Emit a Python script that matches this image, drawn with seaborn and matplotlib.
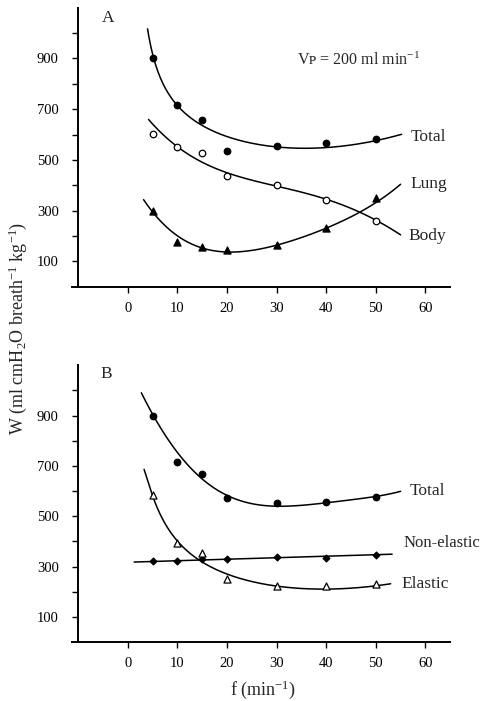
import numpy as np
import pandas as pd
import matplotlib
matplotlib.use("Agg")
import matplotlib.pyplot as plt
import seaborn as sns

# ---- data ----
freq = [5, 10, 15, 20, 30, 40, 50]

# Panel A
a_total = [900, 715, 658, 534, 553, 565, 584]
a_body = [604, 549, 526, 436, 401, 342, 261]
a_lung = [300, 175, 155, 143, 163, 233, 350]

# points
a_total_cx = [4, 5, 7.5, 10.4, 14.5, 20.5, 26.5, 29.5, 35, 40.4, 45, 50.2, 55.2]
a_total_cy = [1025, 900, 795, 717, 639, 580, 557, 548, 547, 554, 566, 580, 593]
a_body_cx = [4.2, 10.3, 15, 20.1, 26.5, 30.4, 40.4, 46.6, 50.1, 55]
a_body_cy = [658, 550, 496, 440, 412, 398, 346, 292, 260, 206]
a_lung_cx = [3.2, 5.1, 10.4, 15.1, 20.1, 26.5, 30.4, 40.4, 46.6, 50.2, 55]
a_lung_cy = [342, 297, 190, 151, 141, 151, 164, 229, 292, 340, 401]

# Panel B
b_total = [900, 716, 669, 572, 551, 556, 577]
b_nonel = [321, 324, 332, 332, 338, 336, 345]
b_elast = [584, 395, 354, 252, 223, 223, 231]

b_total_cx = [2.75, 5, 10.7, 17.4, 26.8, 30.8, 35, 40.5, 45, 50.2, 55]
b_total_cy = [994, 900, 739, 614, 542, 538, 545, 556, 566, 577, 600]
b_nonel_cx = [1.3, 20, 40, 53.3]
b_nonel_cy = [318, 330, 340, 350]
b_elast_cx = [3.3, 5, 10, 14.7, 20, 26.8, 30.8, 35, 39.5, 45, 50, 53]
b_elast_cy = [686, 584, 395, 332, 266, 233, 220, 214, 210, 214, 225, 231]

xticks = [0, 10, 20, 30, 40, 50, 60]
yticks_labeled = [100, 300, 500, 700, 900]

# ---- style ----
sns.set_theme(style="ticks")
plt.rcParams["font.family"] = ["Liberation Serif", "DejaVu Serif"]
plt.rcParams["mathtext.fontset"] = "custom"
plt.rcParams["mathtext.rm"] = "Liberation Serif"
plt.rcParams["mathtext.it"] = "Liberation Serif:italic"
plt.rcParams["mathtext.bf"] = "Liberation Serif:bold"

fig = plt.figure(figsize=(4.82, 7.01), dpi=100)
axA = fig.add_axes([0.162, 0.591, 0.772, 0.398])
axB = fig.add_axes([0.162, 0.084, 0.772, 0.395])

LW = 1.1


def curve(ax, cx, cy, order):
    """Polynomial smoothing of the read curve points (seaborn regplot)."""
    sns.regplot(x=np.array(cx), y=np.array(cy), order=order, ci=None,
                scatter=False, truncate=True, ax=ax,
                line_kws=dict(color="black", lw=LW))


def hyper_curve(ax, cx, cy):
    """Least-squares smoothing of the read curve points for the steep,
    hyperbola-like curves (basis 1, 1/x, 1/x^2, x, x^2)."""
    cx = np.asarray(cx, float)
    cy = np.asarray(cy, float)

    def basis(x):
        return np.column_stack([np.ones_like(x), 1 / x, 1 / x**2, x, x**2])

    coef, *_ = np.linalg.lstsq(basis(cx), cy, rcond=None)
    grid = np.linspace(cx.min(), cx.max(), 200)
    sns.lineplot(x=grid, y=basis(grid) @ coef, ax=ax, color="black",
                 lw=LW, sort=False, estimator=None)


def pts(ax, y, marker, filled, s):
    sns.scatterplot(x=freq, y=y, marker=marker, s=s, ax=ax,
                    color="black" if filled else "white",
                    edgecolor="black", linewidth=0.9, zorder=5)


# Panel A
hyper_curve(axA, a_total_cx, a_total_cy)
curve(axA, a_body_cx, a_body_cy, 4)
curve(axA, a_lung_cx, a_lung_cy, 4)
pts(axA, a_total, "o", True, 22)
pts(axA, a_body, "o", False, 22)
pts(axA, a_lung, "^", True, 26)

# Panel B
curve(axB, b_total_cx, b_total_cy, 5)
curve(axB, b_nonel_cx, b_nonel_cy, 1)
hyper_curve(axB, b_elast_cx, b_elast_cy)
pts(axB, b_total, "o", True, 22)
pts(axB, b_nonel, "D", True, 12)
pts(axB, b_elast, "^", False, 26)

for ax in (axA, axB):
    ax.set_xlim(-10, 65)
    ax.set_ylim(0, 1100)
    ax.set_xticks(xticks)
    ax.set_xticklabels([str(v) for v in xticks])
    ax.set_yticks(list(range(100, 1001, 100)))
    ax.set_yticklabels([str(v) if v in yticks_labeled else "" for v in range(100, 1001, 100)])
    ax.tick_params(direction="out", length=4, width=1.0, labelsize=10.5,
                   colors="black")
    ax.tick_params(axis="y", pad=10)
    ax.tick_params(axis="x", pad=7)
    for side in ("top", "right"):
        ax.spines[side].set_visible(False)
    for side in ("left", "bottom"):
        ax.spines[side].set_linewidth(1.4)
        ax.spines[side].set_color("black")
    ax.spines["bottom"].set_bounds(-11.2, 65)
    ax.set_xlabel("")
    ax.set_ylabel("")
    ax.set_facecolor("white")

FS = 12.5
axA.text(-4.0, 1060, "A", fontsize=FS, ha="center", va="center")
axA.text(57.0, 592, "Total", fontsize=FS, ha="left", va="center")
axA.text(57.0, 405, "Lung", fontsize=FS, ha="left", va="center")
axA.text(56.6, 198, "Body", fontsize=FS, ha="left", va="center")
axA.text(34.1, 892, "V\u1D18 = 200 ml min$^{-1}$", fontsize=11.5, ha="left", va="center")

axB.text(-4.4, 1065, "B", fontsize=FS, ha="center", va="center")
axB.text(56.9, 601, "Total", fontsize=FS, ha="left", va="center")
axB.text(55.5, 392, "Non-elastic", fontsize=12, ha="left", va="center")
axB.text(55.1, 231, "Elastic", fontsize=FS, ha="left", va="center")

fig.text(0.037, 0.532, "W (ml cmH$_2$O breath$^{-1}$ kg$^{-1}$)", rotation=90,
         ha="center", va="center", fontsize=13)
fig.text(0.546, 0.016, "f (min$^{-1}$)", ha="center", va="center", fontsize=13)

fig.savefig("out.png", dpi=100, facecolor="white")
